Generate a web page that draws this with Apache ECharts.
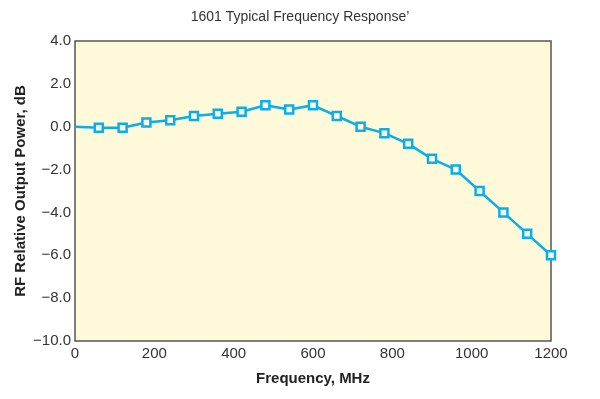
<!DOCTYPE html>
<html>
<head>
<meta charset="utf-8">
<script src="https://cdn.jsdelivr.net/npm/echarts@6/dist/echarts.min.js"></script>
<style>
  html, body { margin: 0; padding: 0; background: #fff; }
  #chart { width: 600px; height: 399px; }
</style>
</head>
<body>
<div id="chart"></div>
<script>
// frequency in MHz, relative output power in dB
const freqs = [0, 60, 120, 180, 240, 300, 360, 420, 480, 540, 600, 660, 720, 780, 840, 900, 960, 1020, 1080, 1140, 1200];
const power = [0, -0.05, -0.05, 0.2, 0.3, 0.5, 0.6, 0.7, 1.0, 0.8, 1.0, 0.5, 0.0, -0.3, -0.8, -1.5, -2.0, -3.0, -4.0, -5.0, -6.0];

const chart = echarts.init(document.getElementById('chart'));

const fmt = v => (v < 0 ? '\u2212' : '') + Math.abs(v).toFixed(1);

chart.setOption({
  animation: false,
  textStyle: { fontFamily: 'Liberation Sans, Arial, sans-serif' },
  title: {
    text: '1601 Typical Frequency Response\u2019',
    left: 'center',
    top: 5,
    textStyle: { fontSize: 14, fontWeight: 'normal', color: '#333' }
  },
  grid: {
    left: 75, right: 49, top: 41, bottom: 58,
    show: true,
    backgroundColor: '#fef9d8',
    borderColor: '#555',
    borderWidth: 1.5
  },
  xAxis: {
    type: 'value',
    min: 0, max: 1200, interval: 200,
    name: 'Frequency, MHz',
    nameLocation: 'middle',
    nameGap: 30,
    nameTextStyle: { fontSize: 15, fontWeight: 'bold', color: '#222' },
    axisLine: { show: false },
    axisTick: { show: false },
    splitLine: { show: false },
    axisLabel: { fontSize: 15, color: '#333', margin: 5, formatter: v => String(v) }
  },
  yAxis: {
    type: 'value',
    min: -10, max: 4, interval: 2,
    name: 'RF Relative Output Power, dB',
    nameLocation: 'middle',
    nameGap: 47,
    nameMoveOverlap: false,
    nameTextStyle: { fontSize: 15, fontWeight: 'bold', color: '#222' },
    axisLine: { show: false },
    axisTick: { show: false },
    splitLine: { show: false },
    axisLabel: { fontSize: 15, color: '#333', margin: 4, formatter: fmt }
  },
  series: [{
    type: 'line',
    data: freqs.map((f, i) => [f, power[i]]),
    symbol: (val, params) => params.dataIndex === 0 ? 'none' : 'rect',
    symbolSize: 8,
    lineStyle: { color: '#0aaee8', width: 2.5 },
    itemStyle: { color: '#fffdf0', borderColor: '#0aaee8', borderWidth: 2.5 }
  }]
});
</script>
</body>
</html>
